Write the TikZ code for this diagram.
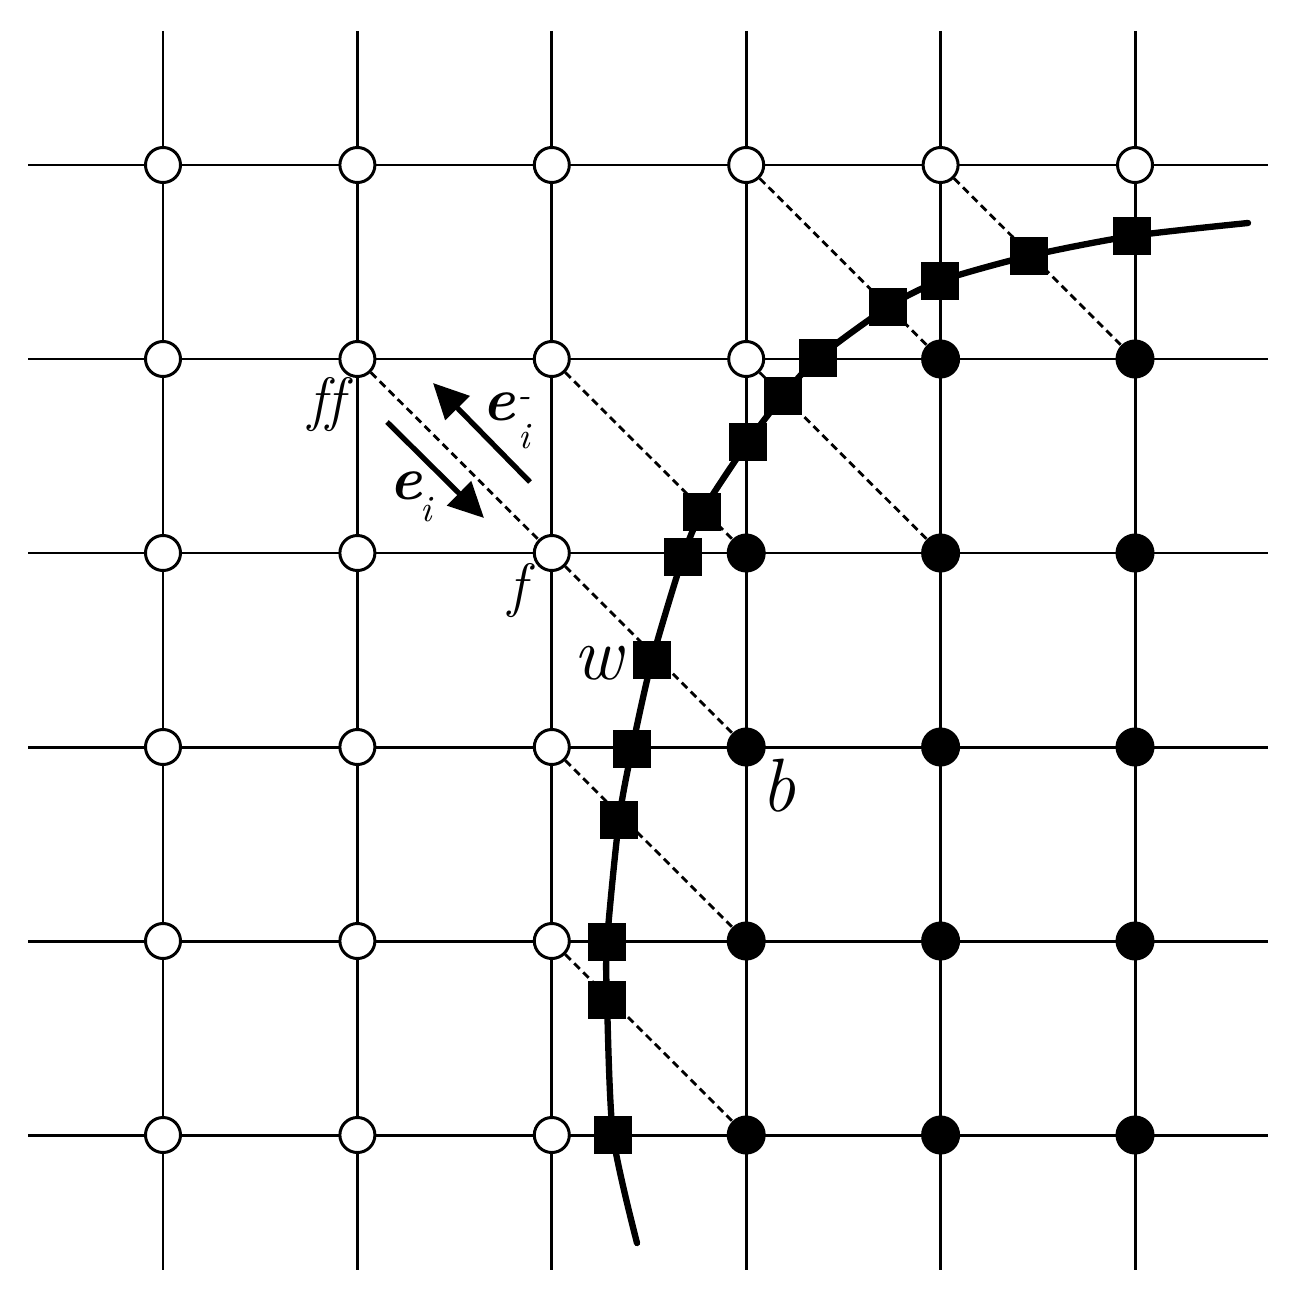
\documentclass[tikz,border=0pt]{standalone}
\usetikzlibrary{arrows.meta}
\pgfdeclarelayer{bg}
\pgfsetlayers{bg,main}
\begin{document}
\begin{tikzpicture}[x=0.01cm,y=-0.01cm,
  gridline/.style={line width=0.85pt},
  wnode/.style={circle,draw,fill=white,line width=0.85pt,minimum size=0.35cm,inner sep=0pt},
  bnode/.style={circle,fill=black,minimum size=0.39cm,inner sep=0pt},
  snode/.style={rectangle,fill=black,minimum size=0.38cm,inner sep=0pt},
  dline/.style={line width=0.8pt,dash pattern=on 2.2pt off 1.4pt},
  curveline/.style={line width=1.8pt,line cap=round},
  arr/.style={line width=1.5pt,-{Triangle[length=10pt,width=9.5pt]}},
  lbl/.style={inner sep=0pt,font=\fontsize{17}{19}\selectfont\itshape},
  biglbl/.style={inner sep=0pt,font=\fontsize{21.5}{24}\selectfont\itshape},
  elbl/.style={inner sep=0pt,font=\fontsize{17.5}{20}\selectfont\bfseries\itshape},
  sublbl/.style={inner sep=0pt,font=\fontsize{10.5}{12}\selectfont\itshape}]
\useasboundingbox (0,0) rectangle (1297,1300);

% lattice nodes
\foreach \r/\cmax in {1/6,2/4,3/3,4/3,5/3,6/3}
  \foreach \c in {1,...,\cmax}
    \node[wnode] (n-\r-\c) at ({163+194.4*(\c-1)},{165+194*(\r-1)}) {};
\foreach \r/\cmin in {2/5,3/4,4/4,5/4,6/4}
  \foreach \c in {\cmin,...,6}
    \node[bnode] (n-\r-\c) at ({163+194.4*(\c-1)},{165+194*(\r-1)}) {};

% interface squares
\node[snode] (s1) at (1132,236) {};
\node[snode] (s2) at (1029,256) {};
\node[snode] (s3) at (940,281) {};
\node[snode] (s4) at (888,307) {};
\node[snode] (s5) at (818,358) {};
\node[snode] (s6) at (783,396) {};
\node[snode] (s7) at (748,442) {};
\node[snode] (s8) at (702,512) {};
\node[snode] (s9) at (683,557) {};
\node[snode] (s10) at (652,660) {};
\node[snode] (s11) at (632,749) {};
\node[snode] (s12) at (619,820) {};
\node[snode] (s13) at (607,942) {};
\node[snode] (s14) at (607,1000) {};
\node[snode] (s15) at (613,1135) {};
\coordinate (cb) at (637,1243);
\coordinate (ct) at (1248,223);

\begin{pgfonlayer}{bg}
  \foreach \c in {1,...,6}
    \draw[gridline] ({163+194.4*(\c-1)},31) -- ({163+194.4*(\c-1)},1270);
  \foreach \r in {1,...,6}
    \draw[gridline] (28,{165+194*(\r-1)}) -- (1268,{165+194*(\r-1)});
  \draw[dline] (n-1-4) -- (n-2-5);
  \draw[dline] (n-1-5) -- (n-2-6);
  \draw[dline] (n-2-3) -- (n-3-4);
  \draw[dline] (n-2-4) -- (n-3-5);
  \draw[dline] (n-2-2) -- (n-3-3);
  \draw[dline] (n-3-3) -- (n-4-4);
  \draw[dline] (n-4-3) -- (n-5-4);
  \draw[dline] (n-5-3) -- (n-6-4);
  \draw[curveline] plot[smooth,tension=0.45] coordinates {(cb) (s15) (s14) (s13) (s12) (s11) (s10) (s9) (s8) (s7) (s6) (s5) (s4) (s3) (s2) (s1) (ct)};
\end{pgfonlayer}

% direction arrows
\coordinate (a1s) at (530,482);
\coordinate (a1e) at (433,383);
\coordinate (a2s) at (387,422);
\coordinate (a2e) at (484,518);
\draw[arr] (a1s) -- (a1e);
\draw[arr] (a2s) -- (a2e);

% labels
\node[lbl] (lff) at (326,405) {f\kern0pt f};
\node[lbl] (lf) at (517,591) {f};
\node[biglbl] (lw) at (598,663) {w};
\node[biglbl] (lb) at (779,786) {b};
\node[elbl] (le1) at (499,407) {e};
\node[sublbl] (li1) at (524,437) {i};
\node[sublbl] (lm1) at (524,402) {-};
\node[elbl] (le2) at (406,486) {e};
\node[sublbl] (li2) at (426,510) {i};
\end{tikzpicture}
\end{document}
